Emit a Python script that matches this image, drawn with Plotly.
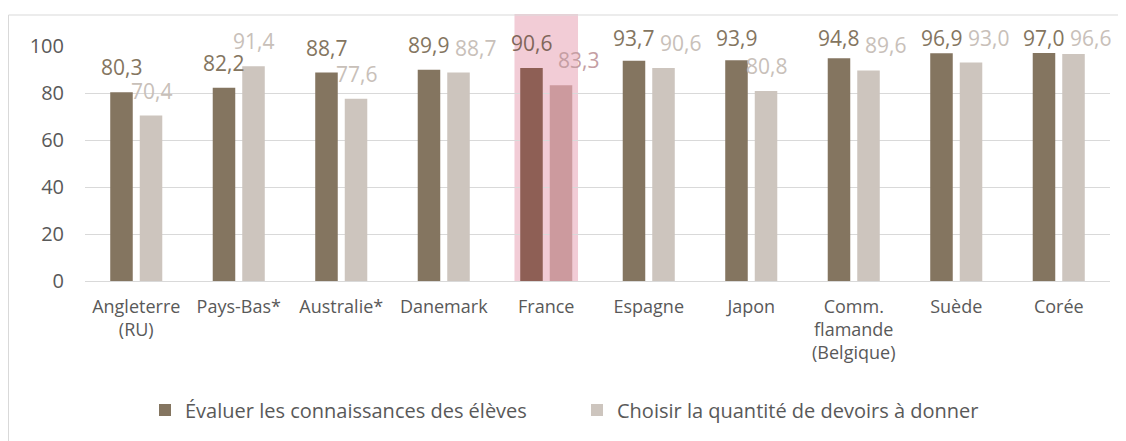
import plotly.graph_objects as go

categories = ["Angleterre<br>(RU)", "Pays-Bas*", "Australie*", "Danemark", "France",
              "Espagne", "Japon", "Comm.<br>flamande<br>(Belgique)", "Suède", "Corée"]
evaluer = [80.3, 82.2, 88.7, 89.9, 90.6, 93.7, 93.9, 94.8, 96.9, 97.0]
choisir = [70.4, 91.4, 77.6, 88.7, 83.3, 90.6, 80.8, 89.6, 93.0, 96.6]
series_names = ["Évaluer les connaissances des élèves", "Choisir la quantité de devoirs à donner"]
highlight = "France"

# page body has an 8px margin, so the figure is 8px smaller than the window
W, H = 1118, 433
ML, MR, MT, MB = 77, 16, 38, 160
PW, PH = W - ML - MR, H - MT - MB

DARK, LIGHT = "#847560", "#CDC5BE"
DARK_HL, LIGHT_HL = "#8E5F55", "#CC9A9E"
PINK = "#F2CCD6"
TXT = "#595959"
FONT = "Open Sans, Segoe UI, sans-serif"

hl_idx = categories.index(highlight)
xs = list(range(len(categories)))
dark_colors = [DARK_HL if i == hl_idx else DARK for i in xs]
light_colors = [LIGHT_HL if i == hl_idx else LIGHT for i in xs]

BARGAP, GROUPGAP = 0.424, 0.237
off = (1 - BARGAP) / 4  # center offset of each bar in category units

fig = go.Figure()
fig.add_trace(go.Bar(x=xs, y=evaluer, name=series_names[0],
                     marker=dict(color=dark_colors, line=dict(width=0))))
fig.add_trace(go.Bar(x=xs, y=choisir, name=series_names[1],
                     marker=dict(color=light_colors, line=dict(width=0))))

# Data labels (Excel-style, clamped near the top)
CAP = 92.8
ann = []
for i in xs:
    d, l = evaluer[i], choisir[i]
    dy, ly = min(d, CAP), min(l, CAP)
    shift = 17 if abs(dy - ly) < 8 else 0
    dc = "#80665A" if i == hl_idx else DARK
    lc = "#C59EA3" if i == hl_idx else "#C8C0B9"
    ann.append(dict(x=i - off, y=dy, xref="x", yref="y", text=f"{d:.1f}".replace(".", ","),
                    showarrow=False, yanchor="bottom", yshift=10, borderpad=0,
                    font=dict(size=21, color=dc, family=FONT)))
    ann.append(dict(x=i + off, y=ly, xref="x", yref="y", text=f"{l:.1f}".replace(".", ","),
                    showarrow=False, yanchor="bottom", yshift=10, xshift=shift, borderpad=0,
                    font=dict(size=21, color=lc, family=FONT)))

shapes = [
    dict(type="rect", xref="x", yref="paper", x0=hl_idx - 0.31, x1=hl_idx + 0.31,
         y0=0, y1=(PH + MT - 6) / PH, fillcolor=PINK, line=dict(width=0), layer="below"),
    dict(type="rect", xref="paper", yref="paper",
         x0=(0.5 - ML) / PW, x1=(W + 20 - ML) / PW,
         y0=(PH + MT - H - 20) / PH, y1=(PH + MT - 7) / PH,
         fillcolor="rgba(0,0,0,0)", line=dict(color="#D9D9D9", width=1), layer="below"),
]

fig.update_layout(
    width=W, height=H,
    margin=dict(l=ML, r=MR, t=MT, b=MB),
    paper_bgcolor="white", plot_bgcolor="rgba(0,0,0,0)",
    barmode="group", bargap=BARGAP, bargroupgap=GROUPGAP,
    font=dict(family=FONT, color=TXT),
    annotations=ann, shapes=shapes,
    legend=dict(orientation="h", x=(157 - 20 - ML) / PW, xanchor="left",
                y=(PH - (402 - MT)) / PH, yanchor="middle",
                font=dict(size=20, color=TXT), entrywidth=387, itemclick=False),
    xaxis=dict(type="linear", tickmode="array", tickvals=xs, ticktext=categories,
               range=[-0.5, len(categories) - 0.5], showgrid=False, zeroline=False,
               showline=True, linecolor="#D9D9D9", linewidth=1,
               tickfont=dict(size=18, color=TXT), ticklabelstandoff=9, ticks=""),
    yaxis=dict(range=[0, 100], tickvals=[0, 20, 40, 60, 80, 100], showgrid=True,
               gridcolor="#D9D9D9", gridwidth=1, zeroline=False, showline=False,
               tickfont=dict(size=20, color=TXT), ticklabelstandoff=20),
)

fig.write_html("out.html")
